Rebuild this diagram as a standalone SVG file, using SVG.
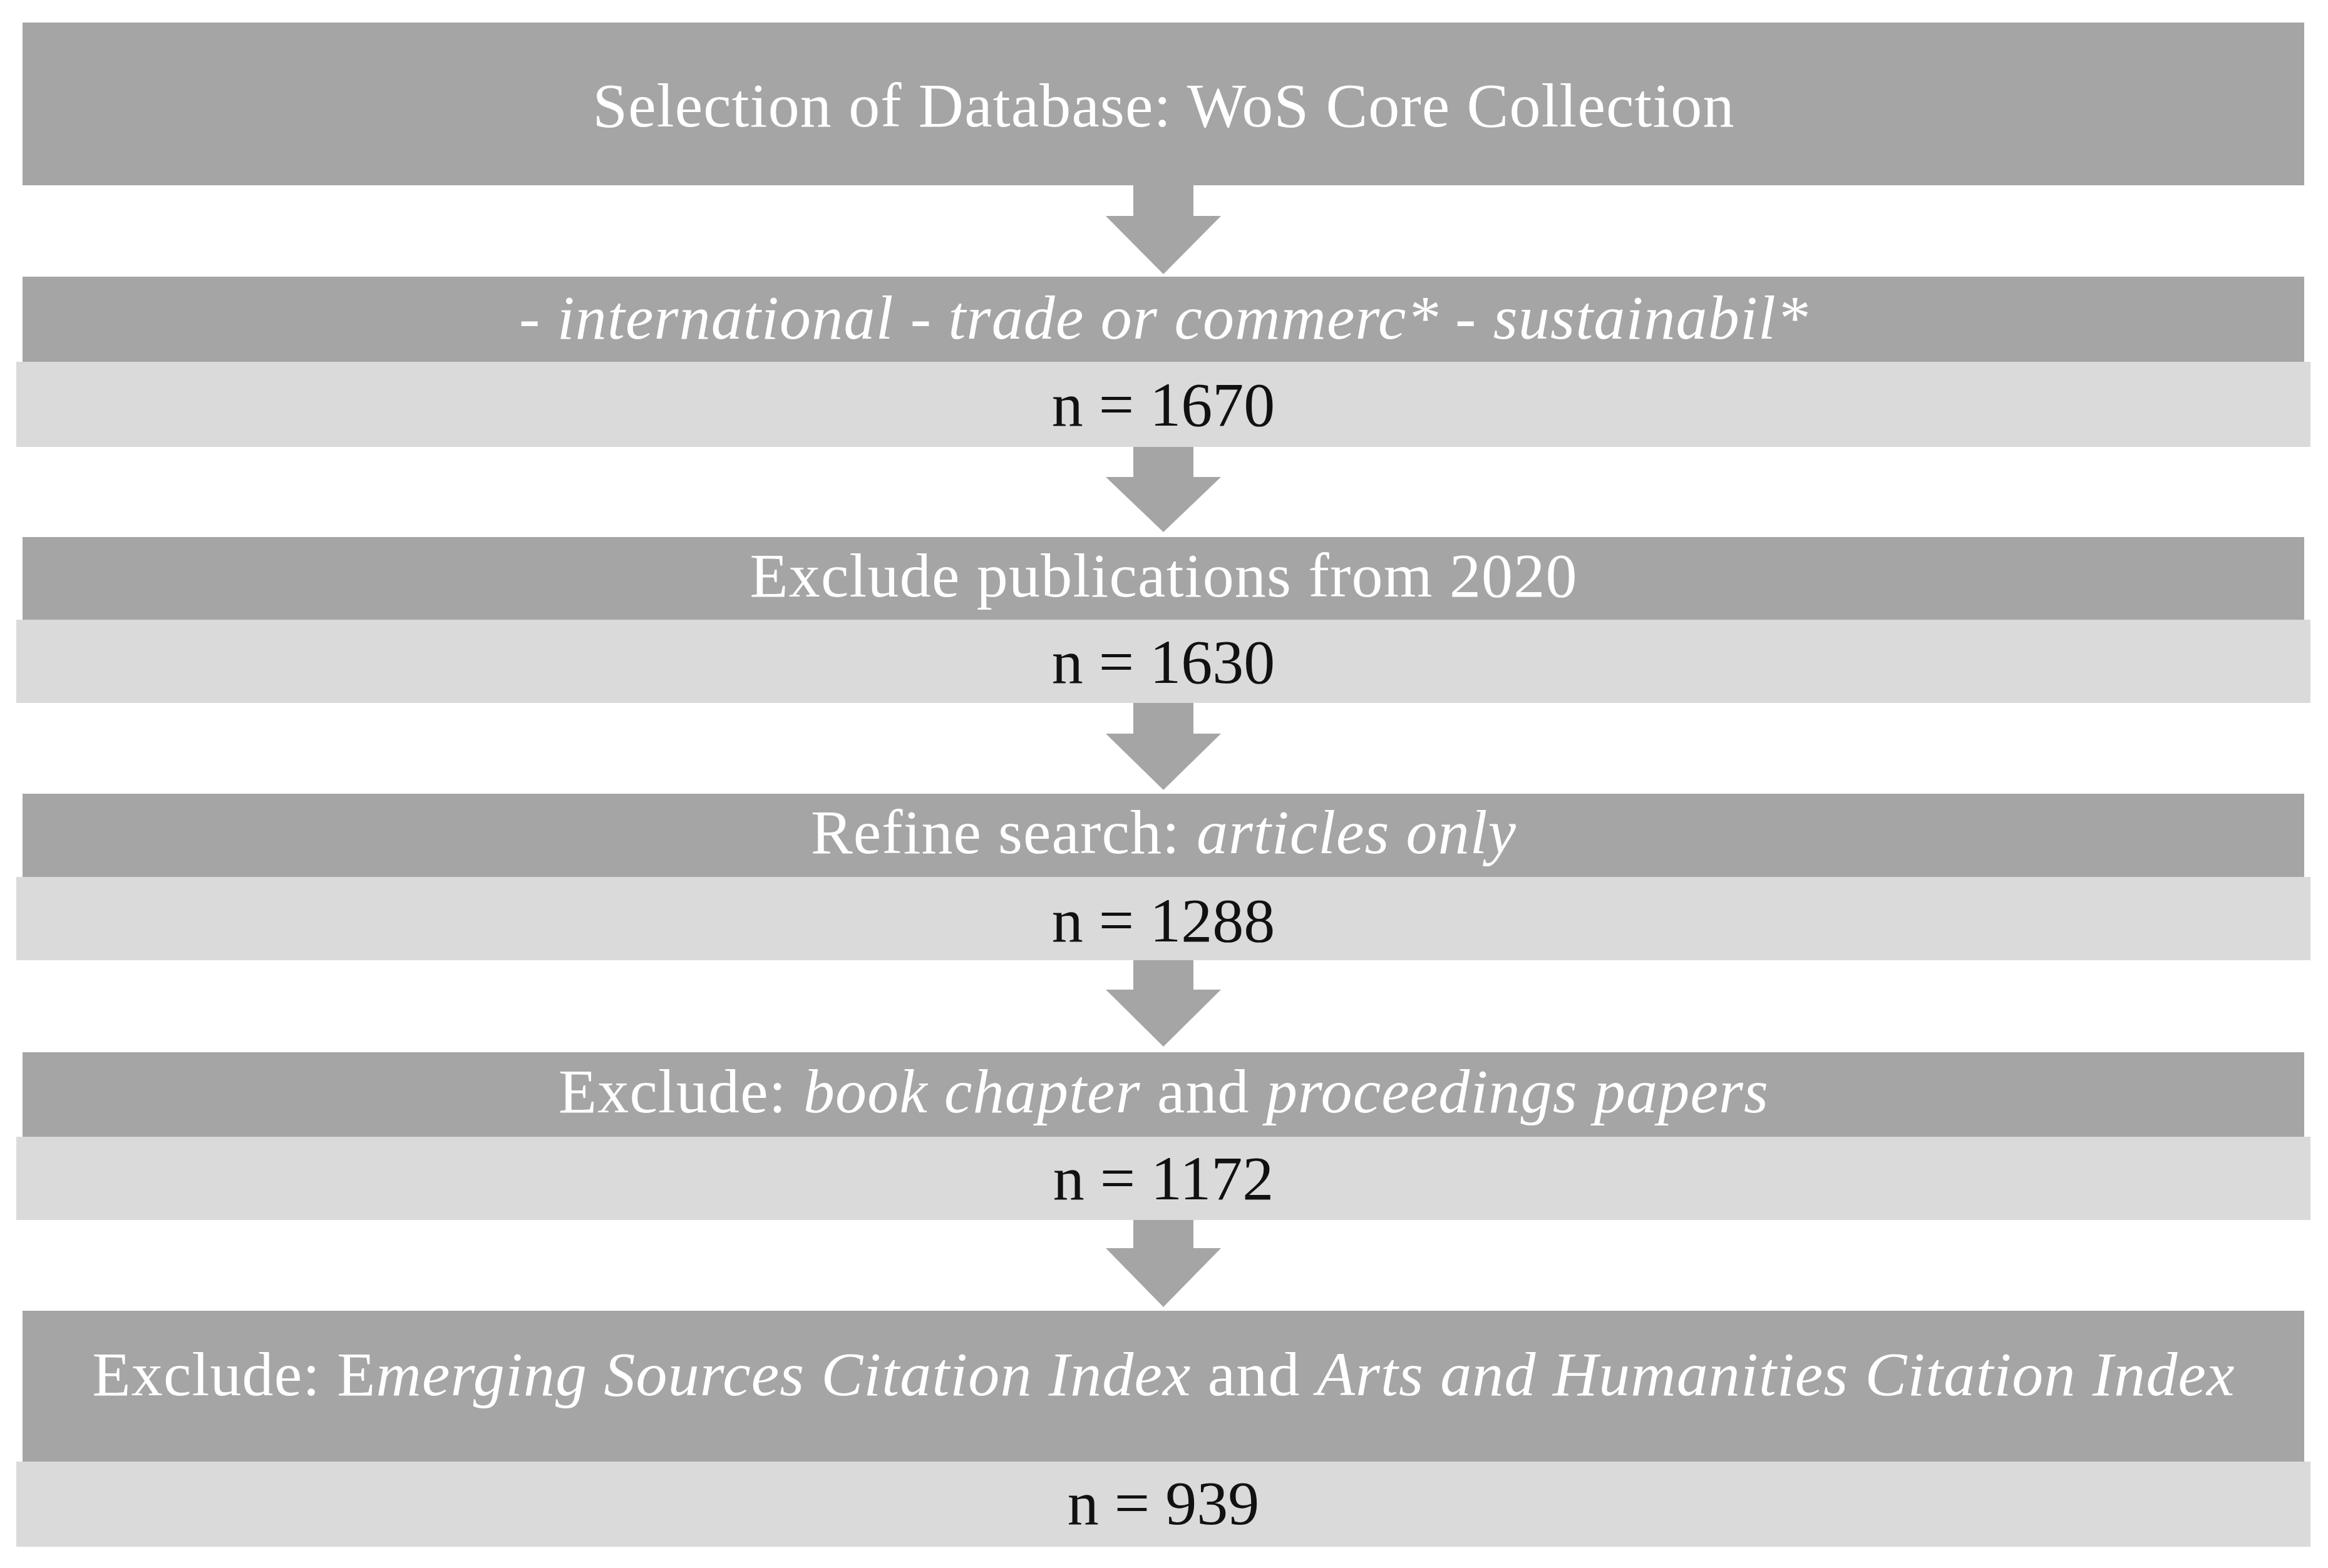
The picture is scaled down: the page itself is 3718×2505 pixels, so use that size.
<svg xmlns="http://www.w3.org/2000/svg" width="3718" height="2505" viewBox="0 0 3718 2505">
<style>
.dark{fill:#a5a5a5}
.light{fill:#dadada}
.arrow{fill:#a5a5a5}
text{font-family:"Liberation Serif","Times New Roman",serif;font-size:100px;text-anchor:middle}
.w{fill:#ffffff}
.b{fill:#111111}
.i{font-style:italic}
</style>
<rect width="3718" height="2505" fill="#ffffff"/>
<g id="connectors">
<polygon class="arrow" points="1810,296 1906,296 1906,345 1950,345 1858,438 1766,345 1810,345"/>
<polygon class="arrow" points="1810,714 1906,714 1906,762 1950,762 1858,850 1766,762 1810,762"/>
<polygon class="arrow" points="1810,1123 1906,1123 1906,1172 1950,1172 1858,1262 1766,1172 1810,1172"/>
<polygon class="arrow" points="1810,1534 1906,1534 1906,1581 1950,1581 1858,1672 1766,1581 1810,1581"/>
<polygon class="arrow" points="1810,1949 1906,1949 1906,1994 1950,1994 1858,2088 1766,1994 1810,1994"/>
</g>
<g id="node1">
<rect class="dark" x="36" y="36" width="3644" height="260"/>
<text class="w" x="1858" y="202" textLength="1823">Selection of Database: WoS Core Collection</text>
</g>
<g id="node2">
<rect class="dark" x="36" y="442" width="3644" height="136"/>
<rect class="light" x="26" y="578" width="3664" height="136"/>
<text class="w i" x="1858" y="541" textLength="2058">- international - trade or commerc* - sustainabil*</text>
<text class="b" x="1858" y="680">n = 1670</text>
</g>
<g id="node3">
<rect class="dark" x="36" y="858" width="3644" height="132"/>
<rect class="light" x="26" y="990" width="3664" height="133"/>
<text class="w" x="1858" y="953" textLength="1321">Exclude publications from 2020</text>
<text class="b" x="1858" y="1091">n = 1630</text>
</g>
<g id="node4">
<rect class="dark" x="36" y="1268" width="3644" height="133"/>
<rect class="light" x="26" y="1401" width="3664" height="133"/>
<text class="w" x="1858" y="1363" textLength="1126">Refine search: <tspan class="i">articles only</tspan></text>
<text class="b" x="1858" y="1504">n = 1288</text>
</g>
<g id="node5">
<rect class="dark" x="36" y="1681" width="3644" height="135"/>
<rect class="light" x="26" y="1816" width="3664" height="133"/>
<text class="w" x="1858" y="1777" textLength="1932">Exclude: <tspan class="i">book chapter</tspan> and <tspan class="i">proceedings papers</tspan></text>
<text class="b" x="1858" y="1916">n = 1172</text>
</g>
<g id="node6">
<rect class="dark" x="36" y="2094" width="3644" height="241"/>
<rect class="light" x="26" y="2335" width="3664" height="136"/>
<text class="w" x="1858" y="2229" textLength="3421">Exclude: E<tspan class="i">merging Sources Citation Index</tspan> and <tspan class="i">Arts and Humanities Citation Index</tspan></text>
<text class="b" x="1858" y="2435">n = 939</text>
</g>
</svg>
